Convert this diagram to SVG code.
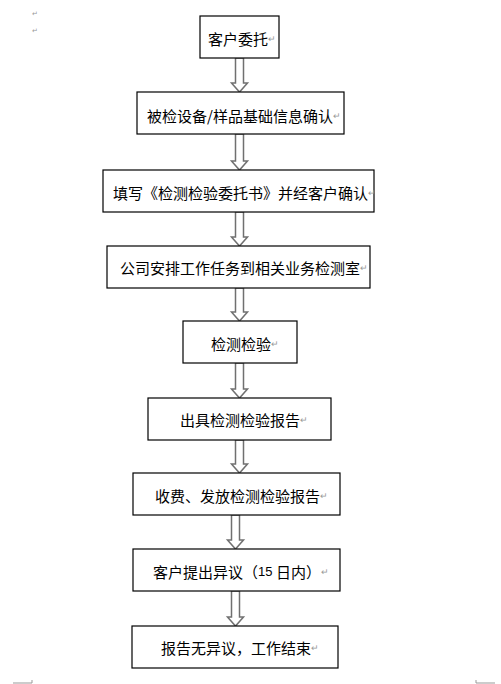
<svg xmlns="http://www.w3.org/2000/svg" width="501" height="684" viewBox="0 0 501 684">
<style>
.box{fill:#fff;stroke:#000;stroke-width:1.2}
.arr{fill:#fff;stroke:#707070;stroke-width:1.5;stroke-linejoin:miter}
.t{font-family:"Noto Sans CJK SC","Noto Sans",sans-serif;font-size:15px;fill:#000;dominant-baseline:central}
.rm{font-size:9px;fill:#999}
.mark{font-family:"Liberation Sans",sans-serif;font-size:7px;fill:#999}
.crop{fill:none;stroke:#999;stroke-width:1}
</style>
<rect width="501" height="684" fill="#fff"/>
<text class="mark" x="32" y="16">↵</text>
<text class="mark" x="32" y="33">↵</text>
<path class="crop" d="M13 683H32V680"/>
<path class="crop" d="M495 683H476V680"/>
<g id="connectors">
<path class="arr" d="M235.5 58V83H231.5L239.5 92L247.5 83H243.5V58Z"/>
<path class="arr" d="M235.5 134V161H231.5L239.5 170L247.5 161H243.5V134Z"/>
<path class="arr" d="M235.5 212V237H231.5L239.5 246L247.5 237H243.5V212Z"/>
<path class="arr" d="M235.5 288V312H231.5L239.5 321L247.5 312H243.5V288Z"/>
<path class="arr" d="M235.5 363V389H231.5L239.5 398L247.5 389H243.5V363Z"/>
<path class="arr" d="M235.5 440V464H231.5L239.5 473L247.5 464H243.5V440Z"/>
<path class="arr" d="M231.5 515V540H227.5L235.5 549L243.5 540H239.5V515Z"/>
<path class="arr" d="M231.5 591V617H227.5L235.5 626L243.5 617H239.5V591Z"/>
</g>
<g id="n1"><rect class="box" x="200" y="16" width="79" height="42"/><text class="t" x="208" y="38">客户委托<tspan class="rm">↵</tspan></text></g>
<g id="n2"><rect class="box" x="137" y="92" width="207" height="42"/><text class="t" x="147" y="115">被检设备/样品基础信息确认<tspan class="rm">↵</tspan></text></g>
<g id="n3"><rect class="box" x="103" y="170" width="271" height="42"/><text class="t" x="113" y="192">填写《检测检验委托书》并经客户确认<tspan class="rm">↵</tspan></text></g>
<g id="n4"><rect class="box" x="107" y="246" width="263" height="42"/><text class="t" x="120" y="267">公司安排工作任务到相关业务检测室<tspan class="rm">↵</tspan></text></g>
<g id="n5"><rect class="box" x="183" y="321" width="114" height="42"/><text class="t" x="211" y="343">检测检验<tspan class="rm">↵</tspan></text></g>
<g id="n6"><rect class="box" x="148" y="398" width="183" height="42"/><text class="t" x="180" y="419">出具检测检验报告<tspan class="rm">↵</tspan></text></g>
<g id="n7"><rect class="box" x="133" y="473" width="207" height="42"/><text class="t" x="155" y="495">收费、发放检测检验报告<tspan class="rm">↵</tspan></text></g>
<g id="n8"><rect class="box" x="133" y="549" width="207" height="42"/><text class="t" x="153" y="571">客户提出异议（<tspan font-family="Liberation Sans,sans-serif" font-size="13">15 </tspan>日内）<tspan class="rm">↵</tspan></text></g>
<g id="n9"><rect class="box" x="132" y="626" width="206" height="42"/><text class="t" x="161" y="647">报告无异议，工作结束<tspan class="rm">↵</tspan></text></g>
</svg>
